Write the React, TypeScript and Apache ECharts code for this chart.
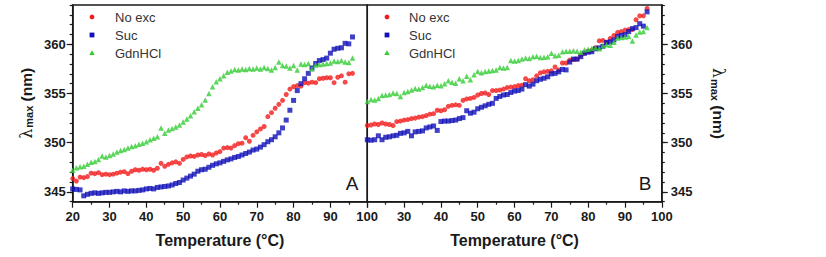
import React, { useEffect, useRef } from "react";
import * as echarts from "echarts";

// Temperature (°C) at which each spectrum was recorded
const temps = [
  20, 21, 22, 23, 24, 25, 26, 27, 28, 29,
  30, 31, 32, 33, 34, 35, 36, 37, 38, 39,
  40, 41, 42, 43, 44, 45, 46, 47, 48, 49,
  50, 51, 52, 53, 54, 55, 56, 57, 58, 59,
  60, 61, 62, 63, 64, 65, 66, 67, 68, 69,
  70, 71, 72, 73, 74, 75, 76, 77, 78, 79,
  80, 81, 82, 83, 84, 85, 86, 87, 88, 89,
  90, 91, 92, 93, 94, 95, 96,
];

// Panel A: emission maximum (nm)
const noExcA = [
  346.35, 346.1, 346.5, 346.45, 346.55, 346.9, 346.85, 346.95, 346.75, 346.8,
  346.75, 346.8, 346.9, 347.0, 347.05, 346.85, 347.1, 347.25, 347.2, 347.3,
  347.25, 347.3, 347.2, 347.4, 347.9, 347.6, 347.8, 347.95, 348.05, 347.9,
  348.3, 348.55, 348.65, 348.6, 348.75, 348.8, 348.7, 348.85, 348.75, 348.95,
  349.1, 349.45, 349.5, 349.45, 349.7, 349.9, 349.95, 350.5, 350.15, 350.75,
  351.1, 351.4, 351.65, 352.65, 353.05, 353.5, 353.9, 354.3, 354.9, 355.45,
  355.7, 355.8, 355.75, 356.1, 356.05, 356.15, 356.1, 356.5, 356.55, 356.6,
  356.6, 356.1, 356.65, 356.8, 356.15, 357.0, 357.05,
];
const sucA = [
  345.3, 345.25, 345.2, 344.6, 344.75, 344.85, 344.9, 344.85, 344.9, 344.95,
  344.95, 345.0, 345.05, 345.0, 345.1, 345.05, 345.1, 345.1, 345.15, 345.2,
  345.3, 345.35, 345.3, 345.45, 345.5, 345.55, 345.6, 345.7, 345.85, 345.95,
  346.2, 346.4, 346.6, 346.8, 347.1, 347.25, 347.3, 347.5, 347.7, 347.85,
  347.95, 348.1, 348.25, 348.35, 348.5, 348.6, 348.75, 348.9, 349.05, 349.25,
  349.35, 349.55, 349.8, 350.1, 350.3, 350.6, 351.0, 351.5, 352.3, 353.3,
  354.3, 355.3, 356.0, 356.5, 357.05, 357.6, 358.05, 358.35, 358.45, 358.6,
  359.1, 359.5, 359.6, 359.65, 360.1, 360.05, 360.75,
];
const gdnA = [
  347.2, 347.45, 347.55, 347.6, 347.8, 348.0, 348.1, 348.3, 348.65, 348.55,
  348.7, 348.85, 349.05, 349.2, 349.3, 349.45, 349.6, 349.7, 349.85, 349.95,
  350.1, 350.3, 350.45, 350.6, 351.5, 350.95, 351.3, 351.45, 351.6, 351.8,
  352.1, 352.4, 352.75, 353.15, 353.5, 353.85, 354.35, 355.0, 355.7, 356.2,
  356.5, 356.8, 357.15, 357.3, 357.45, 357.4, 357.5, 357.45, 357.55, 357.5,
  357.6, 357.5, 357.65, 357.55, 357.4, 357.65, 358.2, 357.85, 357.8, 357.6,
  357.85, 357.4, 358.0, 357.95, 358.05, 357.5, 357.9, 357.95, 358.0, 358.05,
  358.1, 358.3, 358.25, 358.35, 358.2, 358.15, 358.6,
];

// Panel B: emission maximum (nm)
const noExcB = [
  351.75, 351.8, 351.9, 351.85, 352.0, 351.9, 351.85, 351.75, 352.15, 352.2,
  352.3, 352.35, 352.45, 352.5, 352.6, 352.65, 352.75, 352.9, 352.95, 353.3,
  353.25, 353.35, 353.7, 353.8, 353.85, 353.8, 354.3, 354.45, 354.5, 354.6,
  354.85, 355.0, 355.05, 354.9, 355.3, 355.3, 355.35, 355.45, 355.6, 355.65,
  355.7, 355.8, 355.85, 356.5, 356.3, 356.4, 356.8, 357.1, 357.2, 357.25,
  357.3, 357.7, 357.4, 358.1, 358.1, 358.4, 358.45, 358.5, 358.9, 359.1,
  359.3, 359.4, 359.65, 360.35, 360.4, 360.2, 360.6, 360.9, 361.2, 361.3,
  361.45, 361.5, 361.5, 362.5, 362.9, 362.9, 363.65,
];
const sucB = [
  350.3, 350.25, 350.3, 350.7, 350.3, 350.55, 350.6, 350.7, 350.75, 350.95,
  351.0, 351.15, 350.7, 351.1, 351.15, 351.2, 351.5, 351.6, 351.7, 351.25,
  352.15, 352.2, 352.2, 352.25, 352.3, 352.45, 352.55, 353.25, 353.0, 353.1,
  353.45, 353.6, 353.75, 353.9, 354.0, 354.5, 354.7, 354.85, 354.9, 355.1,
  355.25, 355.3, 355.45, 355.9, 355.75, 355.95, 356.3, 356.45, 356.55, 356.7,
  357.0, 357.05, 357.2, 357.45, 357.4, 358.2, 358.5, 358.5, 358.75, 359.1,
  359.2, 359.25, 359.55, 359.65, 359.8, 360.2, 360.25, 360.45, 360.8, 360.9,
  361.0, 361.3, 361.6, 361.7, 362.1, 361.85, 363.3,
];
const gdnB = [
  354.2, 354.4, 354.35, 354.5, 354.8, 354.85, 354.9, 355.05, 355.0, 354.7,
  355.1, 355.2, 355.35, 355.5, 355.45, 355.6, 355.85, 355.75, 355.7, 355.85,
  355.8, 356.0, 356.3, 356.15, 356.05, 356.5, 356.3, 356.75, 356.4, 356.9,
  357.25, 357.1, 357.25, 357.3, 357.35, 357.4, 357.65, 357.6, 357.65, 358.35,
  358.3, 358.35, 358.5, 358.6, 358.55, 358.75, 358.8, 358.65, 358.7, 358.75,
  359.1, 358.85, 358.9, 359.25, 359.3, 359.3, 359.35, 359.3, 359.2, 359.45,
  359.5, 359.6, 359.65, 359.55, 359.85, 359.95, 359.9, 360.2, 360.65, 360.7,
  360.75, 360.8, 360.35, 360.95, 361.25, 361.3, 361.7,
];

const seriesNames = ["No exc", "Suc", "GdnHCl"];
const majorTicks = [345, 350, 355, 360];

const FONT = "'Liberation Sans', Arial, Helvetica, sans-serif";
const INK = "#1a1a1a";
const RED = "#f21a1a";
const BLUE = "#1010b8";
const GREEN = "#33cc33";

const pairs = (ys: number[]) => ys.map((y, i) => [temps[i], y]);

const GRID_TOP = 5;
const GRID_H = 196.7;
const GRID_A_LEFT = 72.7;
const GRID_B_LEFT = 367.3;
const GRID_W = 294.5;

function xAxisFor(gridIndex: number, showMin: boolean) {
  return {
    type: "value",
    gridIndex,
    min: 20,
    max: 100,
    interval: 10,
    axisLine: { show: true, onZero: false, lineStyle: { color: INK, width: 1.5 } },
    axisTick: { show: true, inside: false, length: 6, lineStyle: { color: INK, width: 1.2 } },
    minorTick: { show: true, splitNumber: 2, length: 3, lineStyle: { color: INK, width: 1.2 } },
    splitLine: { show: false },
    axisLabel: {
      showMinLabel: showMin,
      margin: 8,
      color: INK,
      fontFamily: FONT,
      fontWeight: "bold",
      fontSize: 13,
    },
    name: "Temperature (°C)",
    nameLocation: "middle",
    nameGap: 31,
    nameTextStyle: { color: INK, fontFamily: FONT, fontWeight: "bold", fontSize: 16 },
  };
}

const yName = "{l|λ}{m|max}{n| (nm)}";
const yNameRich = {
  l: { fontFamily: "'DejaVu Serif', serif", fontSize: 16, color: INK },
  m: { fontFamily: FONT, fontWeight: "bold", fontSize: 11, color: INK, padding: [6, 0, 0, 1] },
  n: { fontFamily: FONT, fontWeight: "bold", fontSize: 15.5, color: INK },
};

function yAxisFor(gridIndex: number, position: "left" | "right") {
  return {
    type: "value",
    gridIndex,
    position,
    min: 344,
    max: 364,
    interval: 1,
    axisLine: { show: true, onZero: false, lineStyle: { color: INK, width: 1.5 } },
    axisTick: { show: true, inside: false, length: 3, lineStyle: { color: INK, width: 1.2 } },
    splitLine: { show: false },
    axisLabel: {
      margin: position === "left" ? 7 : 9,
      color: INK,
      fontFamily: FONT,
      fontWeight: "bold",
      fontSize: 13,
      formatter: (v: number) => (Math.round(v) % 5 === 0 ? String(Math.round(v)) : ""),
    },
    name: yName,
    nameLocation: "middle",
    nameRotate: position === "left" ? 90 : -90,
    nameGap: position === "left" ? 38 : 48,
    nameTextStyle: { rich: yNameRich },
  };
}

function majorTickAxis(gridIndex: number, position: "left" | "right") {
  return {
    type: "value",
    gridIndex,
    position,
    min: 344,
    max: 364,
    axisLine: { show: false },
    axisTick: {
      show: true,
      inside: false,
      length: 6,
      customValues: majorTicks,
      lineStyle: { color: INK, width: 1.2 },
    },
    axisLabel: { show: false },
    splitLine: { show: false },
  };
}

function scatter(name: string, ys: number[], axisIdx: number, yIdx: number) {
  const style: Record<string, any> = {
    "No exc": { symbol: "circle", symbolSize: 5, color: RED },
    Suc: { symbol: "rect", symbolSize: 5, color: BLUE },
    GdnHCl: { symbol: "triangle", symbolSize: 5.5, color: GREEN },
  }[name];
  return {
    type: "scatter",
    name,
    xAxisIndex: axisIdx,
    yAxisIndex: yIdx,
    data: pairs(ys),
    symbol: style.symbol,
    symbolSize: style.symbolSize,
    itemStyle: { color: style.color },
  };
}

function legendGraphic(x0: number, textX: number) {
  const rows = [17, 35, 53];
  return [
    { type: "circle", shape: { cx: x0, cy: rows[0], r: 2.4 }, style: { fill: RED } },
    { type: "rect", shape: { x: x0 - 2.4, y: rows[1] - 2.4, width: 4.8, height: 4.8 }, style: { fill: BLUE } },
    {
      type: "polygon",
      shape: { points: [[x0, rows[2] - 2.8], [x0 + 2.7, rows[2] + 2], [x0 - 2.7, rows[2] + 2]] },
      style: { fill: GREEN },
    },
    ...seriesNames.map((t, i) => ({
      type: "text",
      x: textX,
      y: rows[i],
      style: {
        text: t,
        fill: "#333",
        font: `13px ${FONT}`,
        verticalAlign: "middle",
      },
    })),
  ];
}

export default function App() {
  const ref = useRef<HTMLDivElement>(null);

  useEffect(() => {
    if (!ref.current) return;
    const chart = echarts.init(ref.current, null, { renderer: "svg" });
    chart.setOption({
      animation: false,
      backgroundColor: "#ffffff",
      grid: [
        {
          left: GRID_A_LEFT,
          top: GRID_TOP,
          width: GRID_W,
          height: GRID_H,
          show: true,
          borderColor: INK,
          borderWidth: 1.5,
        },
        {
          left: GRID_B_LEFT,
          top: GRID_TOP,
          width: GRID_W,
          height: GRID_H,
          show: true,
          borderColor: INK,
          borderWidth: 1.5,
        },
      ],
      xAxis: [xAxisFor(0, true), xAxisFor(1, false)],
      yAxis: [
        yAxisFor(0, "left"),
        majorTickAxis(0, "left"),
        yAxisFor(1, "right"),
        majorTickAxis(1, "right"),
      ],
      series: [
        scatter("No exc", noExcA, 0, 0),
        scatter("Suc", sucA, 0, 0),
        scatter("GdnHCl", gdnA, 0, 0),
        scatter("No exc", noExcB, 1, 2),
        scatter("Suc", sucB, 1, 2),
        scatter("GdnHCl", gdnB, 1, 2),
      ],
      graphic: [
        ...legendGraphic(92, 115),
        ...legendGraphic(387, 409),
        {
          type: "text",
          x: 352,
          y: 183,
          style: { text: "A", fill: INK, font: `19px ${FONT}`, align: "center", verticalAlign: "middle" },
        },
        {
          type: "text",
          x: 645,
          y: 183,
          style: { text: "B", fill: INK, font: `19px ${FONT}`, align: "center", verticalAlign: "middle" },
        },
      ],
    });
    return () => chart.dispose();
  }, []);

  return (
    <div
      ref={ref}
      style={{ position: "absolute", left: 0, top: 0, width: 826, height: 257, background: "#fff" }}
    />
  );
}
